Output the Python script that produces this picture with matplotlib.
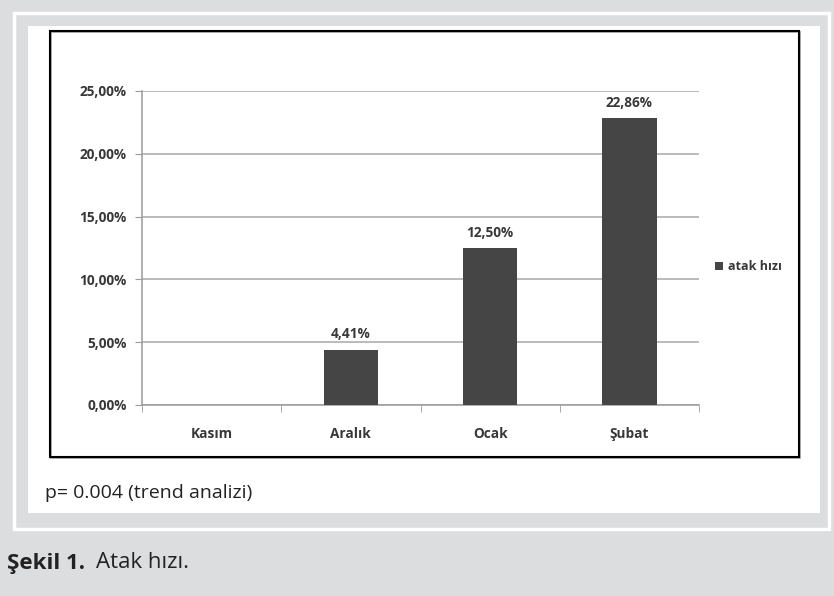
import matplotlib.pyplot as plt
from matplotlib.patches import Rectangle

months = ["Kasım", "Aralık", "Ocak", "Şubat"]
attack_rate = [0.0, 4.41, 12.50, 22.86]
y_ticks = [0, 5, 10, 15, 20, 25]
series_name = "atak hızı"

W, H = 834, 596
grey = "#dcdddf"
bar_col = "#454545"
txt_col = "#383838"
font = "Open Sans"
lab_size = 9.8


def fx(px):
    return px / W


def fy(py):
    return 1 - py / H


def frame(x0, y0, x1, y1, **kw):
    # rectangle given in pixel coords from the top-left corner
    r = Rectangle((fx(x0), fy(y1)), fx(x1) - fx(x0), fy(y0) - fy(y1),
                  transform=fig.transFigure, zorder=-5, **kw)
    fig.patches.append(r)


fig = plt.figure(figsize=(W / 100, H / 100), dpi=100, facecolor=grey)

# white outline, panel, and chart frame with a slight shadow
frame(14, 13, 829, 529, fill=False, ec="white", lw=2.5)
frame(28, 26, 820, 513, fc="white", ec="none")
frame(51, 32, 800, 458, fill=False, ec="#a0a0a0", lw=1.2)
frame(50, 31, 799, 457, fill=False, ec="black", lw=1.5)

ax = fig.add_axes([fx(142), fy(405), fx(699) - fx(142), fy(91) - fy(405)])
ax.set_facecolor("white")
x = range(len(months))
bars = ax.bar(x, attack_rate, width=0.39, color=bar_col, label=series_name, zorder=3)

ax.set_xlim(-0.5, len(months) - 0.5)
ax.set_ylim(0, 25)
ax.set_yticks(y_ticks)
ax.set_yticklabels([f"{v:.2f}%".replace(".", ",") for v in y_ticks])
ax.yaxis.grid(True, color="#a8a8a8", lw=1.1, zorder=0)
ax.set_axisbelow(True)
ax.set_xticks(list(x))
ax.set_xticklabels(months)
ax.set_xticks([i - 0.5 for i in range(len(months) + 1)], minor=True)
ax.tick_params(axis="x", which="major", length=0, pad=16)
ax.tick_params(axis="x", which="minor", length=5, color="#9a9a9a", direction="out")
ax.tick_params(axis="y", length=5, color="#9a9a9a", pad=6)
for lab in ax.get_xticklabels() + ax.get_yticklabels():
    lab.set_fontfamily(font)
    lab.set_fontsize(lab_size)
    lab.set_fontweight("bold")
    lab.set_color(txt_col)

for s in ["top", "right"]:
    ax.spines[s].set_visible(False)
for s in ["left", "bottom"]:
    ax.spines[s].set_color("#9a9a9a")
    ax.spines[s].set_linewidth(1.1)

for b, v in zip(bars, attack_rate):
    if v > 0:
        ax.annotate(f"{v:.2f}%".replace(".", ","), (b.get_x() + b.get_width() / 2, v),
                    xytext=(0, 6), textcoords="offset points", ha="center", va="bottom",
                    fontfamily=font, fontsize=lab_size, fontweight="bold", color=txt_col)

ax.legend(loc="center left", bbox_to_anchor=(fx(715), fy(267)), bbox_transform=fig.transFigure,
          frameon=False, handlelength=0.6, handleheight=0.6, handletextpad=0.4,
          borderpad=0, borderaxespad=0,
          prop={"family": font, "size": 9, "weight": "bold"}, labelcolor=txt_col)

fig.text(fx(45), fy(493), "p= 0.004 (trend analizi)", fontfamily=font, fontsize=14,
         color="#222222", va="center", ha="left")
fig.text(fx(7), fy(563), "Şekil 1.", fontfamily=font, fontsize=16, fontweight="bold",
         color="#222222", va="center", ha="left")
fig.text(fx(96), fy(563), "Atak hızı.", fontfamily=font, fontsize=16,
         color="#222222", va="center", ha="left")

fig.savefig("out.png", dpi=100, facecolor=grey)
